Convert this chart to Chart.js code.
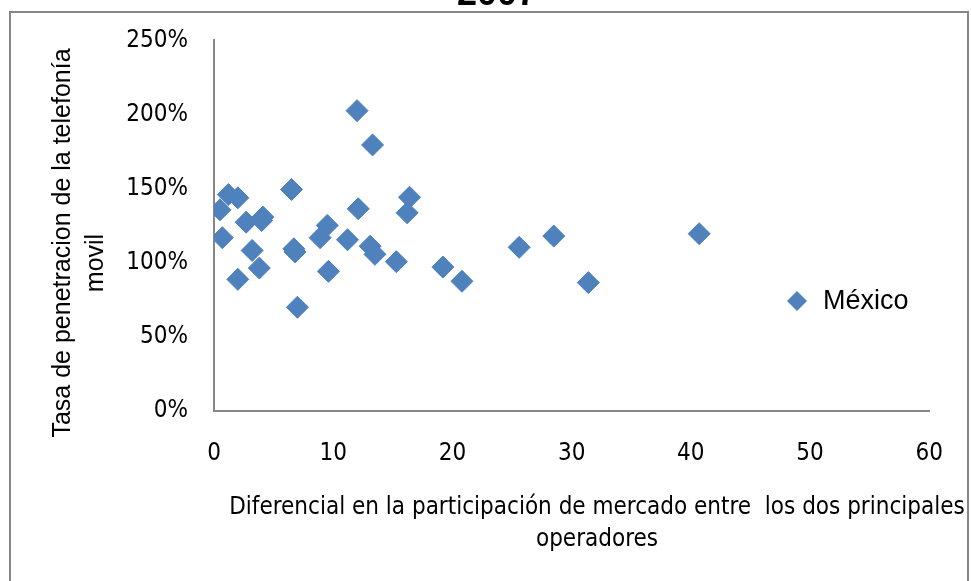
<!DOCTYPE html>
<html>
<head>
<meta charset="utf-8">
<title>2007</title>
<script src="https://cdn.jsdelivr.net/npm/chart.js@4.4.1/dist/chart.umd.min.js"></script>
<style>
  html, body { margin: 0; padding: 0; background: #fff; }
  canvas { display: block; }
</style>
</head>
<body>
<canvas id="scatter" width="971" height="581"></canvas>
<script>
// Diferencial en la participación de mercado (x) vs tasa de penetración (y, %)
var seriesName = 'México';
var diferencial = [0.5, 0.7, 1.2, 2.0, 2.0, 2.7, 3.2, 3.8, 4.0, 4.1,
                   6.5, 6.7, 6.8, 7.0, 8.9, 9.5, 9.6, 11.2, 12.0, 12.1,
                   13.3, 13.1, 13.5, 15.3, 16.2, 16.4, 19.2, 20.8, 25.6, 28.5,
                   31.4, 40.7];
var penetracion = [135.7, 116.9, 146.0, 143.8, 88.8, 127.4, 108.3, 96.4, 128.5, 130.8,
                   149.4, 109.4, 107.3, 70.0, 116.9, 125.2, 94.2, 115.5, 202.6, 136.4,
                   179.5, 111.2, 105.7, 100.7, 133.7, 144.2, 97.1, 87.5, 110.4, 118.0,
                   86.6, 119.6];
var xTicks = [0, 10, 20, 30, 40, 50, 60];
var yTicks = [0, 50, 100, 150, 200, 250];

var chartTitle = '2007';
var yTitle = ['Tasa de penetracion de la telefonía', 'movil'];
var xTitle = ['Diferencial en la participación de mercado entre  los dos principales', 'operadores'];

var blue = '#4F81BD';
var axisGray = '#878787';
var narrow = "'Liberation Sans Narrow', 'DejaVu Sans Condensed', sans-serif";
var sans = "'Liberation Sans', Arial, sans-serif";

var points = diferencial.map(function (x, i) {
    return { x: x, y: penetracion[i] };
});

// frame, title, axis titles and legend
var decor = {
    id: 'decor',
    beforeDraw: function (chart) {
        var ctx = chart.ctx;
        ctx.save();
        ctx.fillStyle = '#fff';
        ctx.fillRect(0, 0, chart.width, chart.height);
        ctx.strokeStyle = axisGray;
        ctx.lineWidth = 2;
        ctx.strokeRect(10, 12, 958, 620);
        ctx.restore();
    },
    afterDraw: function (chart) {
        var ctx = chart.ctx;
        ctx.save();
        ctx.fillStyle = '#000';

        ctx.font = 'bold 36px ' + sans;
        ctx.textAlign = 'center';
        ctx.textBaseline = 'alphabetic';
        ctx.fillText(chartTitle, 497, 5);

        // y title
        ctx.save();
        ctx.translate(63, 243);
        ctx.rotate(-Math.PI / 2);
        ctx.font = '25px ' + sans;
        ctx.textBaseline = 'middle';
        ctx.fillText(yTitle[0], 0, 0);
        ctx.fillText(yTitle[1], -20, 33);
        ctx.restore();

        // x title
        ctx.font = '24px ' + narrow;
        ctx.textBaseline = 'middle';
        ctx.fillText(xTitle[0], 597, 508);
        ctx.fillText(xTitle[1], 597, 540);

        // legend
        var ds = chart.data.datasets[0];
        ctx.fillStyle = blue;
        ctx.beginPath();
        ctx.moveTo(797, 291);
        ctx.lineTo(807, 301);
        ctx.lineTo(797, 311);
        ctx.lineTo(787, 301);
        ctx.closePath();
        ctx.fill();
        ctx.fillStyle = '#000';
        ctx.font = '27px ' + sans;
        ctx.textAlign = 'left';
        ctx.fillText(ds.label, 823, 302);
        ctx.restore();
    }
};

var ctx = document.getElementById('scatter');
var chart = new Chart(ctx, {
    type: 'scatter',
    data: {
        datasets: [
            {
                label: seriesName,
                data: points,
                pointStyle: 'rectRot',
                pointRadius: 11,
                pointHoverRadius: 11,
                borderWidth: 1,
                borderColor: blue,
                backgroundColor: blue
            }
        ]
    },
    options: {
        responsive: false,
        animation: false,
        devicePixelRatio: 1,
        layout: { padding: { top: 40, right: 39, left: 0, bottom: 0 } },
        plugins: {
            legend: { display: false },
            tooltip: { enabled: false }
        },
        scales: {
            x: {
                type: 'linear',
                min: 0,
                max: 60,
                afterFit: function (scale) { scale.height = 170; },
                afterBuildTicks: function (scale) {
                    scale.ticks = xTicks.map(function (v) { return { value: v }; });
                },
                grid: { display: false, drawTicks: false },
                border: { display: true, color: axisGray, width: 2 },
                ticks: {
                    padding: 28,
                    color: '#000',
                    font: { family: narrow, size: 24 }
                }
            },
            y: {
                type: 'linear',
                min: 0,
                max: 250,
                afterFit: function (scale) { scale.width = 214; },
                afterBuildTicks: function (scale) {
                    scale.ticks = yTicks.map(function (v) { return { value: v }; });
                },
                grid: { display: false, drawTicks: false },
                border: { display: true, color: axisGray, width: 2 },
                ticks: {
                    padding: 26,
                    color: '#000',
                    font: { family: narrow, size: 24 },
                    callback: function (v) { return v + '%'; }
                }
            }
        }
    },
    plugins: [decor]
});
</script>
</body>
</html>
